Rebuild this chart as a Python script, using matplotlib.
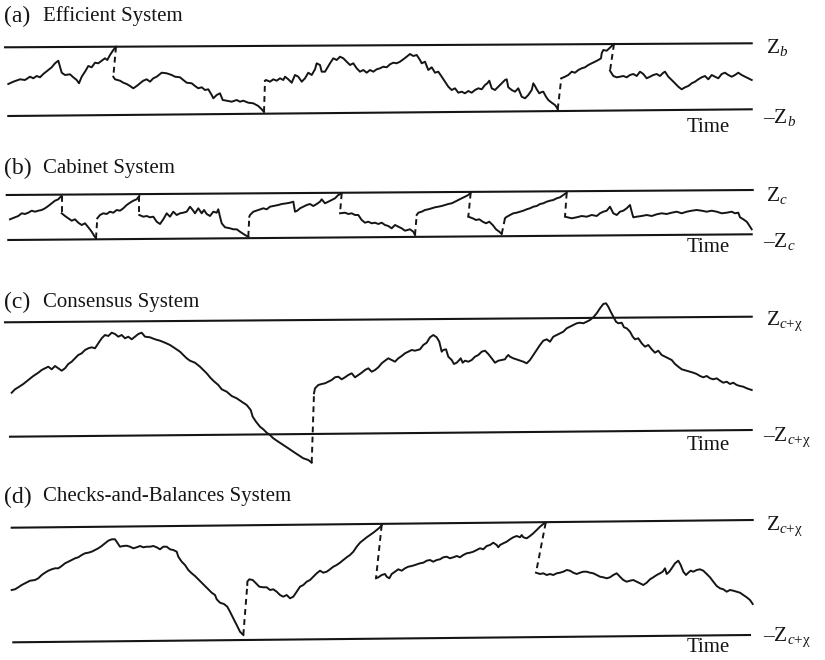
import matplotlib
matplotlib.use("Agg")
import matplotlib.pyplot as plt

plt.rcParams['font.family'] = ['Liberation Serif', 'DejaVu Serif']
plt.rcParams['mathtext.fontset'] = 'custom'
plt.rcParams['mathtext.rm'] = 'Liberation Serif'
plt.rcParams['mathtext.it'] = 'Liberation Serif:italic'

# values, in picture units (time across, level down)
# each panel: list of solid pieces; consecutive pieces are joined by a dashed reset

# (a) Efficient System
eff_t = [
    [8.3, 13.3, 20, 25, 30, 33.3, 36.7, 40, 43.3, 48.3, 51.7, 55, 58.3, 60, 61.7, 65, 70, 73.3, 76.7, 79,
     81.7, 85, 88.3, 91.7, 95, 98.3, 101.7, 105, 107.3, 110, 113.3, 116],
    [113.3, 115, 120, 123.3, 126.7, 130, 133.3, 136.7, 140, 143.3, 146.7, 150, 153.3, 156.7, 161.7, 166.7,
     171.7, 175, 180, 183.3, 186.7, 191.7, 195, 198.3, 201.7, 205, 208.3, 211.7, 213.3, 216.7, 220, 222.7,
     226.7, 231.7, 236.7, 240, 243.3, 248.3, 253.3, 258.3, 261.7, 264],
    [265, 266, 270, 273.3, 276.7, 280, 283.3, 285, 288.3, 291.7, 295, 298.3, 301.7, 305, 308.3, 311.7, 315,
     316.7, 320, 321.7, 325, 330, 333.3, 336.7, 340, 343.3, 346.7, 350, 353.3, 356.7, 360, 363.3, 366.7,
     370, 373.3, 376.7, 380, 383.3, 386.7, 390, 393.3, 396.7, 400, 403.3, 406.7, 410, 413.3, 416.7, 420,
     421.7, 425, 428.3, 431.7, 435, 438.3, 441.7, 445, 448.3, 451.7, 455, 458.3, 461.7, 465, 468.3, 471.7,
     475, 478.3, 481.7, 485, 487.3, 489.3, 491.7, 495, 498.3, 501.7, 505, 506.7, 508.3, 511.7, 515, 518.3,
     521.7, 525, 528.3, 531.7, 533.3, 535, 536.7, 539.3, 541.7, 543.3, 546, 548.3, 551.7, 555, 556.7, 557.7],
    [561.3, 565, 568.3, 571.7, 575, 578.3, 581.7, 585, 588.3, 591.7, 595, 598.3, 601, 601.7, 603.3, 606.7,
     609.3, 611.7, 614],
    [610, 613.3, 616.7, 620, 623.3, 626.7, 630, 633.3, 636.7, 640, 643.3, 646.7, 650, 653.3, 656.7, 660,
     663.3, 665, 668.3, 671.7, 675, 678.3, 681.7, 685, 688.3, 691.7, 695, 698.3, 701.7, 705, 708.3, 711.7,
     715, 718.3, 721.7, 725, 728.3, 731.7, 735, 738.3, 741.7, 745, 748.3, 751.7],
]
eff_z = [
    [84, 81.7, 79.3, 80, 76.7, 78.3, 76, 77.3, 74, 70, 67.3, 63.3, 60.7, 66.7, 72.7, 75, 74.3, 77.3, 80, 83.3,
     76.7, 71.7, 66, 67.3, 62.7, 63.3, 60.7, 58.3, 60, 55, 50, 46.7],
    [76.7, 79.3, 80.7, 82.7, 84, 86, 88.3, 86, 83.3, 80.7, 79.3, 81.7, 78.3, 76.7, 72.7, 73.3, 75, 76.7,
     77.3, 80, 82.7, 83.3, 86, 88.3, 87.3, 90, 89.3, 95, 98.3, 95, 93.3, 100, 100.7, 101.7, 100, 101.7,
     100.7, 102.7, 103.3, 106, 109.3, 112],
    [80.7, 80, 81.7, 79.3, 80.7, 78.3, 80, 76.7, 79.3, 82.7, 75, 76.7, 81.7, 78.3, 72.7, 75, 69.3, 63.3, 65,
     71.7, 71.7, 63.3, 58.3, 60, 56.7, 58.3, 61.7, 65, 63.3, 68.3, 71.7, 70, 72.7, 70, 71.7, 69.3, 68.3,
     66.7, 67.3, 64.3, 62.7, 63.3, 61.7, 59.3, 56.7, 54, 56, 55, 60, 63.3, 61.7, 70, 67.3, 72.7, 71.7, 76.7,
     81.7, 86.7, 90, 88.3, 92.7, 91.7, 93.3, 91, 92.7, 90, 88.3, 89.3, 85, 83.3, 80.7, 88.3, 90, 86.7, 83.3,
     80, 79.3, 87.3, 90, 91.7, 88.3, 96.7, 98.3, 95, 90, 83.3, 86, 89.3, 93.3, 92, 91.7, 96.7, 100, 102.7,
     105, 107.3, 109.3],
    [78.3, 76.7, 75, 71.7, 72.7, 70, 68.3, 67.3, 65, 63.3, 61.7, 60, 58.3, 53.3, 50, 50.7, 48.3, 46, 44],
    [70.7, 76, 77.3, 76.7, 76, 77.3, 75, 74, 76, 71.7, 74, 78.3, 76.7, 75, 74, 76, 72.7, 71.7, 76.7, 80,
     83.3, 86.7, 89.3, 87.3, 86, 83.3, 81.7, 79.3, 77.3, 76, 79.3, 75, 76.7, 78.3, 74, 72.7, 75, 76.7, 75,
     72.7, 75, 76.7, 78.3, 80],
]

# (b) Cabinet System
cab_t = [
    [10, 15, 18.3, 21.7, 25, 28.3, 31.7, 35, 38.3, 41.7, 45, 48.3, 51.7, 55, 58.3, 60.7, 61.7],
    [61.7, 65, 68.3, 71.7, 75, 78.3, 81.7, 85, 88.3, 91.7, 94.3, 96],
    [97.3, 100, 103.3, 106.7, 110, 113.3, 116.7, 120, 123.3, 126.7, 130, 133.3, 136.7, 139.3],
    [139.3, 143.3, 146.7, 150, 153.3, 156.7, 160, 163.3, 166.7, 170, 173.3, 176.7, 180, 183.3, 186.7, 190,
     192.7, 195, 198.3, 201.7, 204, 206.7, 210, 213.3, 216.7, 218.3, 220, 221.7, 225, 230, 233.3, 236.7,
     240, 245, 248.3],
    [249.3, 250, 253.3, 258.3, 263.3, 266.7, 270, 273.3, 278.3, 281.7, 286.7, 290, 293.3, 295, 297.3, 300,
     303.3, 306.7, 310, 313.3, 316.7, 320, 321.7, 325, 328.3, 331.7, 335, 338.3, 341.7],
    [340, 345, 348.3, 351.7, 355, 358.3, 361.7, 365, 368.3, 371.7, 375, 378.3, 381.7, 385, 388.3, 391.7, 395,
     398.3, 401.7, 405, 410, 413.3, 415],
    [416.7, 418.3, 421.7, 425, 428.3, 431.7, 435, 438.3, 441.7, 445, 448.3, 451.7, 455, 458.3, 461.7, 465,
     468.3, 470.7],
    [468.3, 472.7, 476, 479.3, 482.7, 486, 489.3, 492.7, 496, 499.3, 501.7],
    [505, 506, 510, 513.3, 516.7, 520, 523.3, 526.7, 530, 533.3, 536.7, 540, 543.3, 546.7, 550, 553.3, 556.7,
     560, 563.3, 566.7],
    [565, 571.7, 576.7, 581.7, 586.7, 591.7, 596.7, 600, 603.3, 606.7, 610, 613.3, 616.7, 620, 623.3, 626.7,
     630, 631.7, 633.3, 636.7, 641.7, 646.7, 651.7, 656.7, 661.7, 666.7, 671.7, 676.7, 681.7, 686.7, 691.7,
     696.7, 701.7, 706.7, 711.7, 716.7, 721.7, 726.7, 731.7, 735, 738.3, 740, 743.3, 746.7, 748.3, 751.7],
]
cab_z = [
    [219.3, 217.3, 216, 213.3, 214, 212.7, 210.7, 211.7, 210.7, 210, 208.3, 206, 203.3, 200.7, 199.3, 196.7,
     196],
    [213.3, 216, 218.3, 220.7, 219.3, 222.7, 225, 223.3, 227.3, 231.7, 236, 238.3],
    [218.3, 215, 213.3, 214, 211.7, 212.7, 210, 210.7, 208.3, 205, 202.7, 200.7, 199.3, 196],
    [215, 216.7, 216, 217.3, 216.7, 221.7, 224, 219.3, 213.3, 216.7, 211.7, 215, 213.3, 212.7, 211.7, 206.7,
     210, 213.3, 208.3, 213.3, 210, 214, 216, 211.7, 212.7, 209.3, 216.7, 223.3, 227.3, 228.3, 229.3, 229.3,
     231.7, 235, 236.7],
    [216.7, 215, 211.7, 210, 208.3, 209.3, 206.7, 206, 205, 204, 203.3, 202.7, 201.7, 211.7, 210.7, 208.3,
     206.7, 205, 204, 206, 204, 201.7, 199.3, 203.3, 201.7, 200, 198.3, 195, 193.3],
    [213.3, 212.7, 214, 213.3, 215, 215, 220, 222.7, 221.7, 223.3, 222.7, 224, 222.7, 225, 226, 228.3, 225,
     226.7, 228.3, 230.7, 229.3, 231.7, 235],
    [215, 212.7, 211.7, 210, 209.3, 208.3, 207.3, 206.7, 206, 205, 204, 203.3, 201.7, 200, 198.3, 196.7,
     195, 192.7],
    [216.7, 218.3, 220, 219.3, 221.7, 223.3, 221.7, 225, 229.3, 231.7, 234],
    [218.3, 217.3, 215, 213.3, 212.7, 211.7, 210.7, 209.3, 208.3, 206.7, 206, 204, 203.3, 201.7, 200.7,
     200, 198.3, 197.3, 195, 192.7],
    [216.7, 218.3, 217.3, 216, 216.7, 215, 216, 213.3, 211.7, 210.7, 206.7, 213.3, 215, 211.7, 210.7, 208.3,
     205, 211.7, 217.3, 216.7, 216, 215, 216, 214.3, 213.3, 214, 212.7, 211.7, 213.3, 211.7, 210.7, 210,
     210.7, 211.7, 210.7, 211.7, 213.3, 212.7, 211.7, 213.3, 212.7, 217.3, 219.3, 221.7, 224, 229.3],
]

# (c) Consensus System
con_t = [
    [11.7, 15, 18.3, 23.3, 28.3, 33.3, 38.3, 41.7, 45, 48.3, 51.7, 55, 58.3, 61.7, 65, 68.3, 71.7, 75, 78.3,
     81.7, 85, 88.3, 91.7, 95, 98.3, 101.7, 105, 108.3, 111.7, 115, 118.3, 121.7, 125, 128.3, 131.7, 135,
     138.3, 141.7, 145, 150, 155, 160, 165, 170, 175, 180, 183.3, 186.7, 190, 195, 200, 203.3, 206.7, 210,
     213.3, 218.3, 221.7, 226.7, 231.7, 236.7, 241.7, 246.7, 250.7, 252.7, 256, 260, 263.3, 266.7, 270,
     273.3, 278.3, 283.3, 288.3, 293.3, 298.3, 303.3, 308.3, 311.7],
    [314, 315, 318.3, 321.7, 325, 328.3, 331.7, 335, 338.3, 341.7, 345, 348.3, 351.7, 355, 358.3, 361.7,
     365, 368.3, 371.7, 375, 378.3, 381.7, 385, 388.3, 391.7, 395, 398.3, 401.7, 405, 408.3, 411.7, 415,
     420, 423.3, 426.7, 430, 433.3, 436.7, 439.3, 441.7, 443.3, 446, 448.3, 451.7, 454, 456.7, 459.3, 460.7,
     462.7, 465, 468.3, 471.7, 475, 478.3, 481.7, 485, 488.3, 491.7, 495, 498.3, 501.7, 505, 506.7, 508.3,
     510, 513.3, 518.3, 523.3, 526.7, 530, 533.3, 536.7, 540, 543.3, 546.7, 550, 553.3, 556.7, 560, 563.3,
     566.7, 570, 573.3, 576.7, 580, 583.3, 586.7, 590, 593.3, 596.7, 600, 603.3, 606, 608.3, 610.7, 613.3,
     616, 618.3, 621.7, 624, 626.7, 630, 632.7, 635, 638.3, 641.7, 645, 648.3, 651.7, 655, 658.3, 661.7,
     665, 668.3, 671.7, 675, 678.3, 681.7, 686.7, 690, 693.3, 696.7, 700, 703.3, 706.7, 710, 713.3, 716.7,
     720, 723.3, 726.7, 730, 733.3, 736.7, 740, 743.3, 746.7, 751.7],
]
con_z = [
    [392.7, 389.3, 387.3, 384, 380, 376, 372.7, 370, 368.3, 366.7, 369.3, 366, 368.3, 370.7, 368.3, 364,
     361.7, 358.3, 355, 353.3, 350, 348.3, 347.3, 348.3, 343.3, 338.3, 335, 336, 332.7, 334, 336.7, 335,
     338.3, 336.7, 339.3, 336.7, 334, 332.7, 336.7, 337.3, 339.3, 340.7, 342.7, 345, 348.3, 351.7, 355,
     358.3, 360.7, 362.7, 366.7, 370, 373.3, 377.3, 380.7, 385, 389.3, 391.7, 396, 398.3, 401.7, 405, 410,
     416.7, 421.7, 426.7, 429.3, 432.7, 435, 438.3, 441.7, 445, 448.3, 451.7, 455, 458.3, 460, 462.7],
    [393.3, 388.3, 385, 384, 383.3, 381.7, 380, 377.3, 376.7, 379.3, 377.3, 375, 373.3, 377.3, 375, 372.7,
     370, 368.3, 371.7, 370, 367.3, 363.3, 360.7, 358.3, 360, 361.7, 358.3, 356, 353.3, 351.7, 350, 350.7,
     349.3, 345, 342.7, 337.3, 335, 337.3, 341.7, 351.7, 350, 349.3, 356.7, 360, 364, 362.7, 360, 358.3,
     362.7, 360.7, 361.7, 360, 356.7, 355, 351.7, 350.7, 354, 358.3, 362.7, 360.7, 360, 359.3, 356.7, 355,
     356.7, 358.3, 360, 361.7, 363.3, 360, 355, 350, 345, 340.7, 339.3, 341.7, 336.7, 335, 333.3, 331.7,
     328.3, 326.7, 325, 323.3, 322.7, 323.3, 321.7, 320, 317.3, 313.3, 308.3, 304, 303.3, 306.7, 311.7,
     316.7, 321.7, 323.3, 322.7, 327.3, 328.3, 331.7, 336.7, 339.3, 338.3, 343.3, 346.7, 345, 349.3, 352.7,
     350.7, 355, 356.7, 358.3, 360, 364, 366.7, 369.3, 370.7, 371.7, 372.7, 374, 376, 377.3, 376, 378.3,
     379.3, 378.3, 380.7, 382.7, 381.7, 384, 382.7, 385, 386, 386.7, 388.3, 390],
]

# (d) Checks-and-Balances System
chk_t = [
    [11.7, 15, 18.3, 21.7, 25, 30, 35, 38.3, 41.7, 45, 48.3, 51.7, 55, 58.3, 61.7, 65, 68.3, 71.7, 75, 78.3,
     81.7, 85, 88.3, 91.7, 95, 98.3, 101.7, 105, 108.3, 111.7, 115, 117.3, 120, 123.3, 126.7, 130, 133.3,
     136.7, 140, 143.3, 146.7, 150, 153.3, 156.7, 160, 163.3, 166.7, 170, 173.3, 176.7, 178.3, 181.7, 185,
     188.3, 191.7, 195, 198.3, 201.7, 205, 208.3, 211.7, 215, 216.7, 220, 224, 227.3, 230, 233.3, 236.7,
     240, 243.3],
    [247.3, 247.3, 249.3, 252.7, 256, 259.3, 263.3, 266.7, 270, 273.3, 276.7, 280, 283.3, 286.7, 290, 293.3,
     296.7, 300, 303.3, 306.7, 310, 313.3, 316.7, 320, 323.3, 326.7, 330, 333.3, 336.7, 340, 343.3, 346.7,
     350, 353.3, 356.7, 360, 363.3, 366.7, 370, 373.3, 376.7, 380, 381.7],
    [376, 378.3, 381.7, 385, 386.7, 389.3, 391.7, 395, 398.3, 401.7, 405, 408.3, 411.7, 415, 420, 423.3,
     426.7, 430, 433.3, 436.7, 440, 443.3, 446.7, 450, 453.3, 456.7, 460, 463.3, 466.7, 470, 473.3, 476.7,
     480, 483.3, 486.7, 490, 493.3, 496.7, 498.3, 500, 503.3, 506.7, 510, 513.3, 516.7, 520, 521.7, 523.3,
     526.7, 530, 533.3, 536.7, 540, 543.3, 545.7],
    [536, 540, 543.3, 546.7, 550, 553.3, 556.7, 560, 563.3, 566.7, 570, 573.3, 576.7, 580, 583.3, 586.7, 590,
     593.3, 596.7, 600, 603.3, 606.7, 610, 613.3, 616.7, 620, 623.3, 626.7, 630, 633.3, 636.7, 640, 643.3,
     646.7, 650, 653.3, 656.7, 660, 662.7, 665, 666.7, 669.3, 671.7, 675, 678.3, 680.7, 683.3, 686, 688.3,
     690.7, 693.3, 696.7, 700, 703.3, 706.7, 710, 713.3, 716.7, 720, 723.3, 726.7, 730, 733.3, 736.7, 740,
     743.3, 746.7, 750, 752.7],
]
chk_z = [
    [590, 589.3, 587.3, 585, 583.3, 580.7, 580, 578.3, 575, 572.7, 570.7, 569.3, 568.3, 568.3, 566, 563.3,
     561.7, 560, 558.3, 557.3, 555, 553.3, 552.7, 551.7, 550, 548.3, 546, 543.3, 540.7, 539.3, 539.3, 542.7,
     546.7, 546, 545.7, 546.7, 548.3, 547.3, 546, 547.3, 546.7, 546.7, 546, 547.3, 549.3, 546.7, 546.7,
     549.3, 550, 551.7, 556.7, 561.7, 565, 570, 573.3, 576, 579.3, 582.7, 586, 589.3, 592.7, 595, 599.3,
     602.7, 604, 606.7, 611.7, 618.3, 625, 631.7, 635],
    [585, 581.7, 579.3, 580, 583.3, 586.7, 587.3, 587.3, 590, 589.3, 591.7, 595, 596.7, 595, 598.3, 596.7,
     591.7, 586.7, 585, 581.7, 580, 576.7, 573.3, 570.7, 572.7, 571.7, 569.3, 566.7, 565, 562.7, 560, 557.3,
     555, 551.7, 546.7, 542.7, 540, 537.3, 535, 532.7, 530, 527.3, 525],
    [578.3, 577.3, 575, 574, 576.7, 578.3, 574, 571.7, 569.3, 570.7, 568.3, 566.7, 566, 565, 563.3, 562.7,
     560.7, 560, 561.7, 560, 559.3, 557.3, 556.7, 558.3, 557.3, 556, 557.3, 555, 553.3, 552.7, 551.7, 550,
     548.3, 549.3, 546, 545, 542.7, 545, 547.3, 545, 543.3, 541.7, 539.3, 537.3, 536, 537.3, 535, 537.3,
     538.3, 536, 533.3, 530, 526.7, 524, 522.7],
    [572.7, 574, 573.3, 575, 574, 575, 573.3, 572.7, 571.7, 570, 570.7, 572.7, 574, 572.7, 571.7, 571.7,
     572.7, 573.3, 575, 576.7, 577.3, 578.3, 577.3, 575, 573.3, 576.7, 580, 581.7, 580.7, 580, 581.7, 583.3,
     585, 582.7, 579.3, 577.3, 575, 573.3, 571.7, 568.3, 574, 571.7, 568.3, 563.3, 560.7, 565, 571.7, 575,
     572.7, 570.7, 571.7, 570, 569.3, 570.7, 574, 577.3, 581.7, 586, 588.3, 589.3, 591.7, 590, 590.7,
     591.7, 592.7, 595, 597.3, 600, 604],
]

# barrier lines (start and end) for each panel
bar_t = [[5, 751.7], [8.3, 751.7], [6.7, 752.7], [8.3, 751.7],
         [5, 751.7], [10, 751.7], [11.7, 752.7], [13.3, 750]]
bar_z = [[47.3, 43.3], [116, 109.3], [195, 190], [240, 234.3],
         [322.3, 316.7], [436.7, 430], [527.7, 520], [642.3, 635]]

panel_tags = ['(a)', '(b)', '(c)', '(d)']
panel_names = ['Efficient System', 'Cabinet System', 'Consensus System', 'Checks-and-Balances System']
upper_labels = [r'$\mathrm{Z}_b$', r'$\mathrm{Z}_c$', r'$\mathrm{Z}_{c\mathrm{+χ}}$', r'$\mathrm{Z}_{c\mathrm{+χ}}$']
lower_labels = ['–' + s for s in upper_labels]

fig = plt.figure(figsize=(8.25, 6.6), dpi=100)
ax = fig.add_axes([0, 0, 1, 1])
ax.set_xlim(0, 825)
ax.set_ylim(660, 0)
ax.axis('off')

INK = '#151515'


def draw_path(ts, zs):
    for i, (t, z) in enumerate(zip(ts, zs)):
        ax.plot(t, z, color=INK, lw=1.4, solid_joinstyle='round')
        if i + 1 < len(ts):
            ax.plot([t[-1], ts[i + 1][0]], [z[-1], zs[i + 1][0]], color=INK,
                    lw=1.4, dashes=(3, 2.2))


for t, z in zip(bar_t, bar_z):
    ax.plot(t, z, color=INK, lw=1.5)

for ts, zs in [(eff_t, eff_z), (cab_t, cab_z), (con_t, con_z), (chk_t, chk_z)]:
    draw_path(ts, zs)

title_y = [16, 168, 302, 497]
upper_y = [48, 195, 321, 526]
lower_y = [117, 242, 437, 637]
time_y = [127, 248, 445, 647]
for i in range(4):
    ax.text(4, title_y[i], panel_tags[i], fontsize=17, va='center', ha='left', color=INK)
    ax.text(43, title_y[i], panel_names[i], fontsize=15, va='center', ha='left', color=INK)
    ax.text(766, upper_y[i], upper_labels[i], fontsize=15.5, va='center', ha='left', color=INK)
    ax.text(763, lower_y[i], lower_labels[i], fontsize=15.5, va='center', ha='left', color=INK)
    ax.text(708, time_y[i], 'Time', fontsize=15, va='center', ha='center', color=INK)

fig.savefig('out.png', dpi=100)
